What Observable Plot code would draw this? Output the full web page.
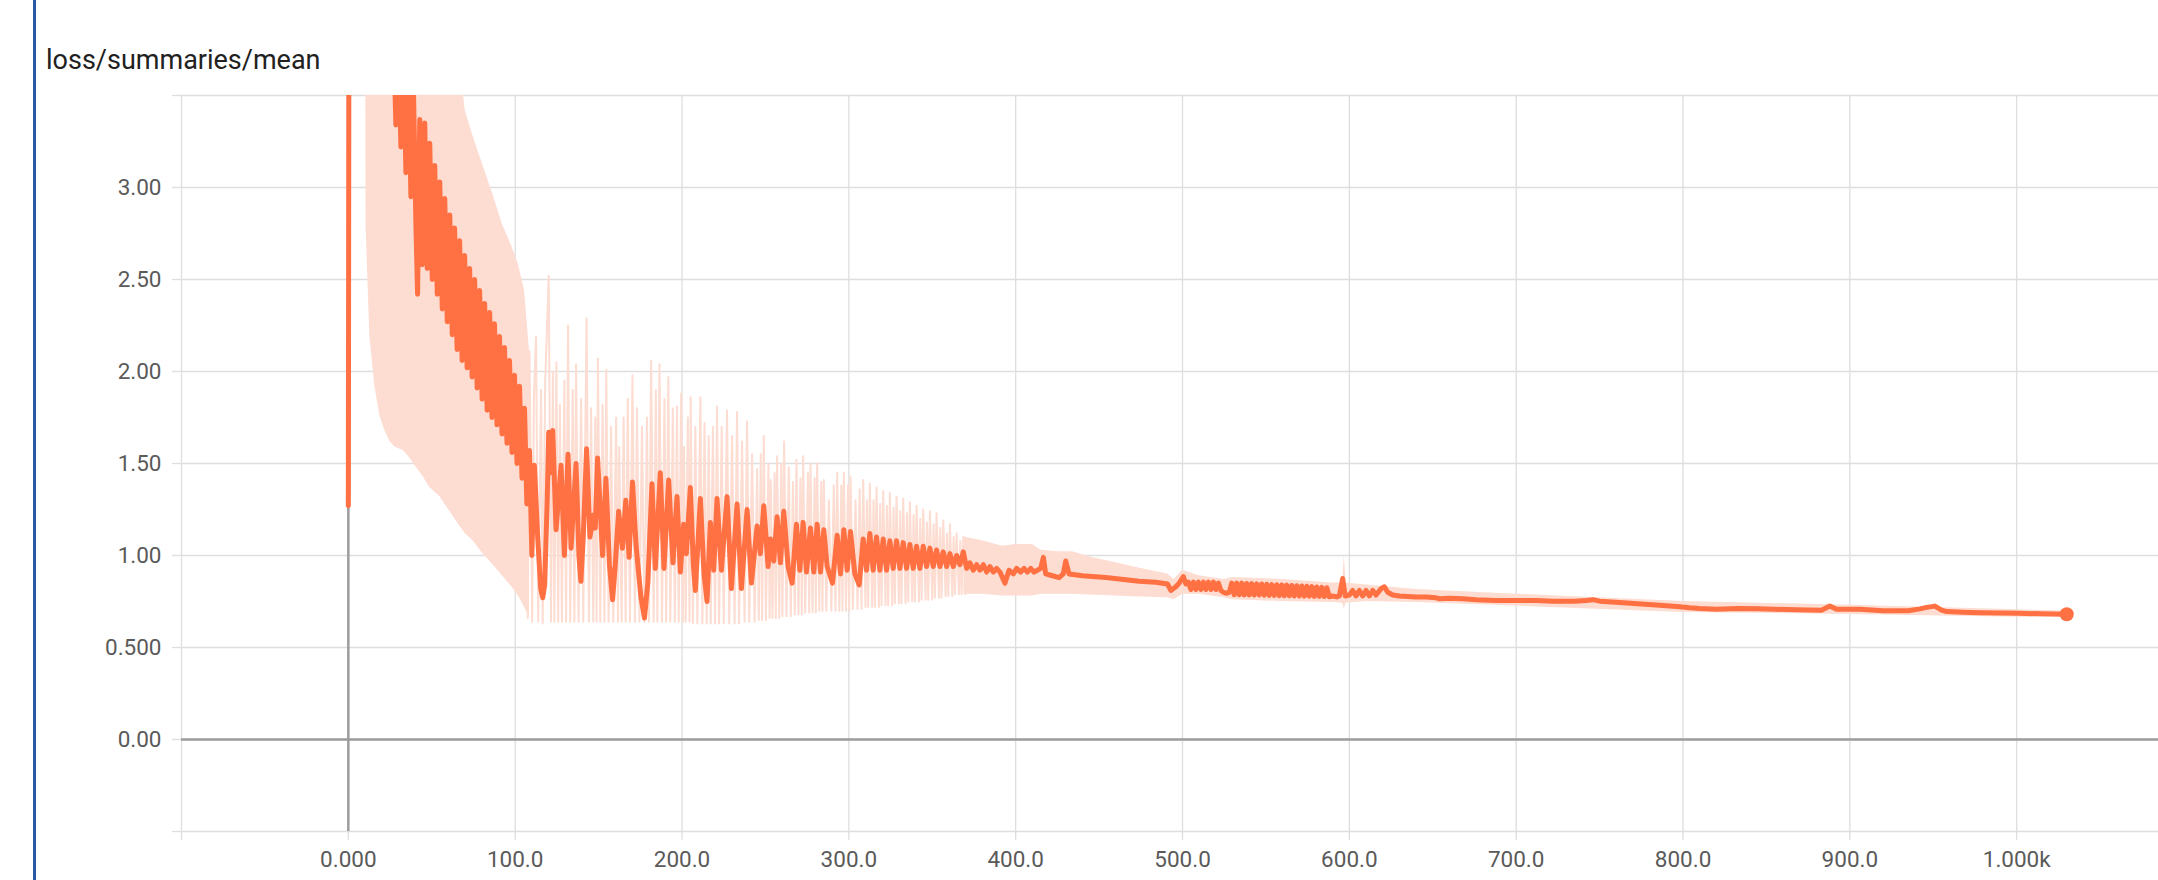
<!DOCTYPE html>
<html><head><meta charset="utf-8">
<script src="https://cdn.jsdelivr.net/npm/d3@7"></script>
<script src="https://cdn.jsdelivr.net/npm/@observablehq/plot@0.6"></script>
<style>
html,body{margin:0;padding:0;background:#fff;width:2158px;height:880px;overflow:hidden;}
#wrap{position:relative;width:2158px;height:880px;}
#bar{position:absolute;left:33px;top:0;width:3px;height:880px;background:#2a57a0;z-index:2;}
#title{position:absolute;left:46px;top:47px;font:27px Roboto, sans-serif;line-height:27px;color:#212121;white-space:nowrap;}
#chart{position:absolute;left:0;top:80px;}
</style></head><body>
<div id="wrap"><div id="chart"></div><div id="bar"></div><div id="title">loss/summaries/mean</div></div>
<script>
// axis ticks and labels
const xTicks = [-100, 0, 100, 200, 300, 400, 500, 600, 700, 800, 900, 1000];
const xTickLabels = ["", "0.000", "100.0", "200.0", "300.0", "400.0", "500.0", "600.0", "700.0", "800.0", "900.0", "1.000k"];
const yTicks = [-0.5, 0, 0.5, 1, 1.5, 2, 2.5, 3, 3.5];
const yTickLabels = ["", "0.00", "0.500", "1.00", "1.50", "2.00", "2.50", "3.00", ""];

// smoothed (bold) series: [step, value]
const boldPoints = [[0,1.27],[1,9.0],[14,6.5],[26,4.2],
[28.5,3.34],[30,3.9],[31.5,3.22],[33,3.8],[34.5,3.08],[36,3.7],[37.5,2.95],[39,3.55],[40.5,2.80],[41.5,2.42],
[42.8,3.37],[44.3,2.58],[45.8,3.35],[47.3,2.56],[48.8,3.24],[50.3,2.50],[51.8,3.12],[53.3,2.42],[54.8,3.03],[56.3,2.34],[57.8,2.94],[59.3,2.27],[60.8,2.85],[62.3,2.20],[63.7,2.78],[65.2,2.12],[66.7,2.71],[68.2,2.06],[69.7,2.63],[71.2,2.02],[72.7,2.56],[74.2,1.97],[75.7,2.50],[77.2,1.91],[78.7,2.44],[80.2,1.85],[81.7,2.37],[83.2,1.79],[84.7,2.32],[86.1,1.75],[87.6,2.26],[89.1,1.71],[90.6,2.19],[92.1,1.66],[93.6,2.13],[95.1,1.61],[96.6,2.06],[98.1,1.56],[99.6,1.98],[101.1,1.50],[102.6,1.92],[104.1,1.42],[105.6,1.80],[107,1.28],[108.6,1.57],[110,1.00],[111.5,1.49],[113.5,1.10],[115.3,0.82],[116.5,0.77],[117.7,0.84],[119.2,1.30],[120.1,1.67],[121.3,1.45],[122.5,1.68],[124.5,1.14],[127.5,1.49],[129.5,1.00],[131.7,1.55],[133.5,1.04],[136.5,1.50],[138.2,1.0],[139.4,0.86],[140.8,1.1],[142.8,1.58],[144.8,1.10],[147,1.22],[148,1.15],[149.4,1.53],[152.4,1.00],[154.4,1.42],[156.5,0.95],[158.4,0.76],[160,0.95],[162,1.24],[164.3,1.04],[166.3,1.30],[168.3,0.99],[170.3,1.40],[172.5,1.05],[175.3,0.78],[177.5,0.66],[179.5,0.85],[182,1.39],[184,0.93],[187,1.45],[189.2,0.93],[192,1.41],[194.6,0.96],[197,1.32],[199,0.91],[201,1.17],[202.6,1.01],[205,1.37],[206.8,0.95],[208,0.81],[211,1.31],[213.2,0.9],[215,0.75],[217,1.18],[219,0.92],[221,1.31],[223.6,0.92],[227,1.32],[229.6,0.82],[233,1.28],[235.6,0.82],[239,1.25],[241.6,0.85],[245,1.16],[247,1.01],[249,1.27],[251.6,0.94],[253,1.09],[255,0.97],[257,1.21],[259,0.96],[261,1.24],[263.6,0.94],[266,0.85],[268.6,1.17],[270.6,0.92],[272.6,1.18],[274.6,0.91],[277,1.15],[279,0.91],[281,1.17],[283,0.91],[285,1.14],[287,0.94],[290.2,0.85],[293,1.11],[295,0.90],[297,1.14],[299,0.92],[301,1.13],[303.6,0.90],[306.2,0.84],[308.6,1.09],[310.6,0.92],[312.6,1.12],[314.6,0.92],[316.6,1.10],[318.6,0.92],[320.6,1.09],[322.6,0.92],[324.6,1.08],[326.6,0.93],[328.6,1.08],[330.6,0.93],[332.6,1.07],[334.6,0.93],[336.6,1.06],[338.6,0.93],[340.6,1.05],[342.6,0.93],[344.6,1.05],[346.6,0.94],[348.6,1.04],[350.6,0.94],[352.6,1.03],[354.6,0.94],[356.6,1.02],[358.6,0.94],[360.6,1.01],[362.6,0.94],[364.6,1.00],[366.6,0.95],[368.6,1.02],[370.6,0.93],[372.6,0.96],[374.6,0.92],[376.6,0.95],[378.6,0.92],[380.6,0.95],[382.6,0.91],[384.6,0.94],[386.6,0.91],[388.6,0.93],[390.6,0.91],[393.6,0.85],[396,0.92],[398.6,0.90],[400.6,0.93],[403,0.91],[405,0.93],[407,0.91],[409,0.93],[411,0.91],[413,0.92],[415,0.93],[416.6,0.99],[418,0.90],[422,0.89],[426,0.88],[428.5,0.90],[430,0.97],[432,0.90],[440,0.89],[454,0.88],[474,0.86],[484,0.855],[491,0.845],[493,0.81],[496,0.83],[498,0.85],[500.5,0.885],[502,0.845],[503.5,0.855],[505,0.815],[506.5,0.855],[508,0.815],[509.5,0.855],[511,0.815],[512.5,0.855],[514,0.815],[515.5,0.855],[517,0.815],[518.5,0.855],[520,0.815],[521.5,0.85],[523,0.81],[524.5,0.80],[526.5,0.795],[528,0.80],[529.5,0.85],[531,0.787],[532.5,0.85],[534,0.787],[535.5,0.85],[537,0.786],[538.5,0.848],[540,0.786],[541.5,0.847],[543,0.785],[544.5,0.846],[546,0.785],[547.5,0.845],[549,0.784],[550.5,0.844],[552,0.783],[553.5,0.842],[555,0.783],[556.5,0.841],[558,0.782],[559.5,0.84],[561,0.781],[562.5,0.839],[564,0.781],[565.5,0.837],[567,0.78],[568.5,0.836],[570,0.78],[571.5,0.834],[573,0.779],[574.5,0.833],[576,0.779],[577.5,0.831],[579,0.778],[580.5,0.829],[582,0.778],[583.5,0.827],[585,0.777],[586.5,0.825],[588,0.776],[590,0.78],[592.5,0.775],[594,0.78],[596,0.875],[597.5,0.78],[600,0.785],[602,0.81],[604,0.78],[606,0.81],[608,0.78],[610,0.81],[612,0.78],[614,0.81],[616,0.785],[619,0.82],[621,0.83],[623,0.80],[626,0.785],[630,0.78],[640,0.775],[646,0.775],[652,0.77],[654,0.765],[660,0.768],[668,0.765],[676,0.76],[688,0.755],[700,0.756],[712,0.756],[722,0.752],[735,0.752],[742,0.756],[746,0.76],[750,0.752],[762,0.745],[775,0.737],[786,0.73],[798,0.722],[804,0.716],[810,0.712],[820,0.708],[833,0.712],[845,0.71],[855,0.708],[862,0.706],[875,0.704],[883,0.703],[888,0.725],[892,0.708],[906,0.708],[920,0.70],[935,0.70],[942,0.71],[946,0.718],[951,0.725],[955,0.703],[958,0.695],[968,0.691],[978,0.689],[990,0.687],[1001,0.686],[1015,0.683],[1030,0.681]];

// raw (faint) series, dense early part as band: [step, low, high]
const rawHeadBand = [[10.5,3.6,4.5],[10.6,2.80,4.5],[12.9,2.19,4.5],[15.9,1.92,4.5],[18.9,1.76,4.5],[21.9,1.68,4.5],[24.9,1.62,4.5],[27.9,1.59,4.5],[32.9,1.57,4.5],[36.9,1.53,4.5],[39.8,1.49,4.5],[44.8,1.43,4.5],[48.8,1.37,4.5],[54.8,1.32,4.5],[60.8,1.24,4.5],[66.7,1.16,4.5],[68.5,1.14,3.55],[70,1.12,3.42],[74.7,1.08,3.28],[80.7,1.01,3.12],[86.7,0.95,2.96],[92.3,0.89,2.80],[98,0.83,2.68],[102,0.78,2.58],[105.6,0.72,2.44],[108.6,0.66,2.11]];

// raw (faint) series, spiky middle part: [step, value]
const rawSpikes = [[107.5,0.66],[108.6,2.11],[110.2,0.64],[111.2,1.85],[112.5,2.19],[113.8,0.64],[115.5,1.9],[116.5,0.63],[118,1.95],[120.1,2.52],[121.5,0.64],[122.6,2.0],[123.5,0.64],[124.7,2.05],[125.8,0.64],[126.8,1.82],[128,0.64],[129.5,1.95],[130.5,0.64],[131.7,2.25],[133,0.64],[134.5,1.9],[135.5,0.64],[136.5,2.04],[138,0.64],[139.5,1.85],[140.8,0.64],[142.8,2.29],[144.2,0.64],[145.5,1.80],[146.8,0.64],[148,1.75],[148.8,0.64],[149.6,2.07],[151,0.64],[152.4,1.82],[153.5,0.64],[154.6,2.01],[156,0.64],[157.5,1.70],[158.8,0.64],[160.5,1.75],[161.6,0.64],[162.4,1.59],[163.8,0.64],[165,1.75],[166.2,0.64],[167.5,1.85],[168.8,0.64],[170.3,1.98],[171.8,0.64],[173,1.80],[174.5,0.64],[176,1.70],[177.5,0.64],[179,1.75],[180.2,0.64],[181.5,2.06],[183,0.64],[184.3,1.9],[185.2,0.64],[186.5,2.04],[188,0.64],[189.5,1.85],[190.5,0.64],[191.8,1.97],[193,0.64],[194.5,1.80],[195.7,0.64],[197,1.81],[198,0.64],[199.5,1.88],[200.5,0.64],[201.2,1.59],[202.2,0.64],[203.5,1.75],[204.5,0.64],[205.2,1.86],[206.5,0.63],[208,1.7],[209.2,0.63],[211,1.86],[212.2,0.63],[213.5,1.72],[214.8,0.63],[216,1.65],[217.2,0.63],[218.5,1.7],[219.8,0.63],[221,1.81],[222.2,0.63],[223.8,1.7],[225,0.63],[227,1.79],[228.3,0.63],[230,1.65],[231.5,0.63],[233,1.78],[234.2,0.63],[236,1.62],[237.5,0.64],[239,1.73],[240.3,0.64],[242,1.55],[243.5,0.64],[245,1.47],[246,0.65],[247.2,1.55],[248,0.65],[249,1.65],[250.3,0.65],[251.8,1.5],[252.5,0.66],[253.2,1.41],[254.2,0.66],[255.5,1.45],[256.2,0.66],[257,1.54],[258.3,0.66],[259.5,1.5],[260.2,0.67],[261.2,1.62],[262.6,0.67],[264,1.48],[265.2,0.67],[266.5,1.4],[267.6,0.68],[268.6,1.52],[269.8,0.68],[271,1.42],[271.8,0.68],[272.6,1.54],[273.8,0.69],[275.5,1.45],[276.2,0.69],[277,1.50],[278.2,0.69],[279.5,1.42],[280.2,0.69],[281,1.50],[282.3,0.70],[283.5,1.4],[284.2,0.70],[285,1.41],[286.5,0.70],[288,1.3],[289.5,0.70],[291,1.38],[292,0.70],[293,1.45],[294.3,0.70],[295.5,1.38],[296.2,0.70],[297,1.45],[298.3,0.70],[299.5,1.38],[300.2,0.70],[301,1.43],[302.4,0.71],[304,1.3],[305.2,0.71],[306.5,1.36],[307.6,0.71],[308.6,1.41],[310,0.72],[310.8,1.30],[311.6,0.72],[312.6,1.39],[314,0.72],[314.8,1.3],[315.6,0.72],[316.6,1.37],[318,0.72],[318.8,1.28],[319.6,0.73],[320.6,1.35],[322,0.73],[322.8,1.27],[323.6,0.73],[324.6,1.34],[326,0.73],[326.8,1.26],[327.6,0.74],[328.6,1.32],[330,0.74],[330.8,1.24],[331.6,0.74],[332.6,1.31],[334,0.74],[334.8,1.23],[335.6,0.75],[336.6,1.29],[338,0.75],[338.8,1.22],[339.6,0.75],[340.6,1.27],[342,0.75],[342.8,1.20],[343.6,0.76],[344.6,1.25],[346,0.76],[346.8,1.18],[347.6,0.76],[348.6,1.24],[350,0.76],[350.8,1.17],[351.6,0.77],[352.6,1.23],[354,0.77],[354.8,1.15],[355.6,0.77],[356.6,1.19],[358,0.78],[358.8,1.12],[359.6,0.78],[360.6,1.17],[362,0.78],[362.8,1.10],[363.6,0.79],[364.6,1.12],[366,0.79],[366.8,1.08],[367.6,0.79],[368.6,1.10],[370,0.79]];

// raw (faint) series, narrow late part as band: [step, low, high]
const rawTailBand = [[369,0.79,1.10],[380,0.79,1.08],[392,0.78,1.05],[400,0.78,1.06],[410,0.78,1.06],[415,0.79,1.03],[425,0.79,1.02],[434,0.79,1.02],[445,0.785,0.99],[460,0.78,0.96],[475,0.775,0.93],[491,0.77,0.90],[495,0.76,0.87],[500,0.79,0.92],[510,0.79,0.89],[525,0.77,0.87],[530,0.76,0.88],[560,0.75,0.87],[590,0.745,0.85],[596,0.74,0.85],[597,0.71,1.0],[598,0.74,0.85],[610,0.75,0.84],[640,0.745,0.815],[700,0.725,0.79],[800,0.69,0.75],[900,0.68,0.73],[1000,0.665,0.705],[1030,0.665,0.698]];

const lastPoint = [boldPoints[boldPoints.length - 1]];

const xLabel = new Map(xTicks.map((t, i) => [t, xTickLabels[i]]));
const yLabel = new Map(yTicks.map((t, i) => [t, yTickLabels[i]]));

const raw = "#fddcd1";
const orange = "#ff7043";

const chart = Plot.plot({
  width: 2158,
  height: 800,
  marginTop: 15,
  marginBottom: 49,
  marginLeft: 181,
  marginRight: 0,
  x: {domain: [-100, 1085], axis: null},
  y: {domain: [-0.5, 3.5], axis: null},
  style: {fontFamily: "Roboto, sans-serif", background: "transparent", overflow: "visible"},
  marks: [
    Plot.gridY(yTicks, {stroke: "#dedede", strokeOpacity: 1, strokeWidth: 1.3}),
    Plot.gridX(xTicks, {stroke: "#dedede", strokeOpacity: 1, strokeWidth: 1.3}),
    Plot.axisY({ticks: yTicks, tickSize: 9, tickPadding: 11, stroke: "#dedede", strokeWidth: 1.3, fill: "#5a5a5a", fontSize: 22.5, tickFormat: d => yLabel.get(d)}),
    Plot.axisX({ticks: xTicks, tickSize: 9, tickPadding: 11, stroke: "#dedede", strokeWidth: 1.3, fill: "#5a5a5a", fontSize: 22.5, tickFormat: d => xLabel.get(d)}),
    Plot.ruleY([0], {stroke: "#9c9c9c", strokeWidth: 2.5}),
    Plot.ruleX([0], {stroke: "#9c9c9c", strokeWidth: 2.5}),
    Plot.areaY(rawHeadBand, {x: d => d[0], y1: d => d[1], y2: d => d[2], fill: raw, clip: true}),
    Plot.line(rawSpikes, {x: d => d[0], y: d => d[1], stroke: raw, strokeWidth: 2, clip: true}),
    Plot.areaY(rawTailBand, {x: d => d[0], y1: d => d[1], y2: d => d[2], fill: raw, clip: true}),
    Plot.line(boldPoints, {x: d => d[0], y: d => d[1], stroke: orange, strokeWidth: 5, strokeLinejoin: "round", strokeLinecap: "round", clip: true}),
    Plot.dot(lastPoint, {x: d => d[0], y: d => d[1], r: 7, fill: orange, stroke: "none"})
  ]
});
document.getElementById("chart").appendChild(chart);
</script>
</body></html>
